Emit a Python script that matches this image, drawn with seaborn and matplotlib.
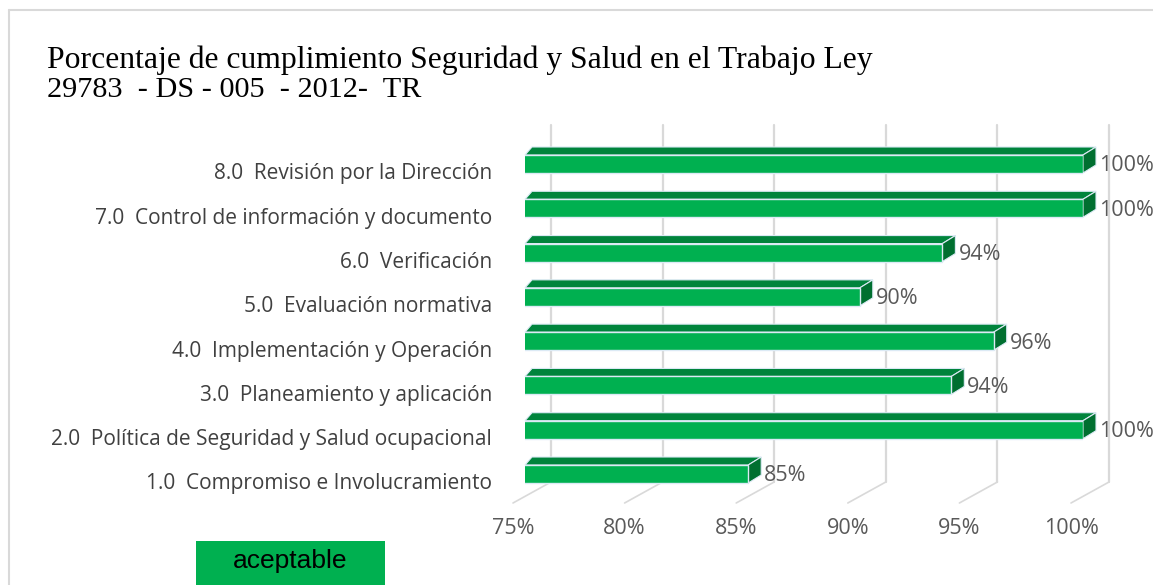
import matplotlib
matplotlib.use("Agg")
import matplotlib.pyplot as plt
import seaborn as sns
import pandas as pd
from matplotlib.patches import Polygon, Rectangle
from matplotlib.lines import Line2D

# ---- data -------------------------------------------------------------
categories = [
    "8.0  Revisión por la Dirección",
    "7.0  Control de información y documento",
    "6.0  Verificación",
    "5.0  Evaluación normativa",
    "4.0  Implementación y Operación",
    "3.0  Planeamiento y aplicación",
    "2.0  Política de Seguridad y Salud ocupacional",
    "1.0  Compromiso e Involucramiento",
]
values = [100, 100, 93.7, 90, 96, 94.1, 100, 85]
tick_values = [75, 80, 85, 90, 95, 100]
tick_labels = ["75%", "80%", "85%", "90%", "95%", "100%"]
title_lines = [
    "Porcentaje de cumplimiento Seguridad y Salud en el Trabajo Ley",
    "29783  - DS - 005  - 2012-  TR",
]
legend_label = "aceptable"

# ---- style ------------------------------------------------------------
FRONT = "#00B050"
TOP = "#00843C"
SIDE = "#006F30"
EDGE = "#DCEAF5"
GRID = "#D9D9D9"
TEXT = "#595959"
LABEL_FONT = "Open Sans"

W, H, DPI = 1153, 585, 100
sns.set_theme(style="white")
plt.rcParams["font.family"] = ["Open Sans", "DejaVu Sans"]

fig = plt.figure(figsize=(W / DPI, H / DPI), dpi=DPI)
fig.patch.set_facecolor("white")

# plot area in pixel terms (image coordinates, y downward)
AX_L, AX_R, AX_T, AX_B = 525, 1083, 120, 510
ax = fig.add_axes([AX_L / W, 1 - AX_B / H, (AX_R - AX_L) / W, (AX_B - AX_T) / H])

df = pd.DataFrame({"categoria": categories, "valor": values})
sns.barplot(data=df, x="valor", y="categoria", orient="h", color=FRONT,
            saturation=1, width=0.406, edgecolor=EDGE, linewidth=1.0, ax=ax,
            zorder=3)

x_min, x_max = 75, 100
ax.set_xlim(x_min, x_max)
ax.set_ylim(7.813, -0.993)
ax.axis("off")


def fx(xpx):
    return xpx / W


def fy(ypx):
    return 1 - ypx / H


def data_to_px(x, y):
    dx, dy = ax.transData.transform((x, y))
    return dx, H - dy


# data units per pixel
x_per_px = (x_max - x_min) / (AX_R - AX_L)
y_per_px = (7.813 + 0.993) / (AX_B - AX_T)

# ---- back wall & floor grid ----------------------------------------------
WALL_DX, FLOOR_DX = 26, -12
WALL_TOP, WALL_BOT, FLOOR_FRONT = 125, 482, 503
for v, lab in zip(tick_values, tick_labels):
    xp, _ = data_to_px(v, 0)
    fig.add_artist(Line2D([fx(xp + WALL_DX)] * 2, [fy(WALL_TOP), fy(WALL_BOT)],
                          color=GRID, lw=1.6, zorder=0))
    fig.add_artist(Line2D([fx(xp + WALL_DX), fx(xp + FLOOR_DX)],
                          [fy(WALL_BOT), fy(FLOOR_FRONT)],
                          color=GRID, lw=1.2, zorder=0))
    fig.text(fx(xp + FLOOR_DX), fy(529), lab, ha="center", va="center",
             color=TEXT, fontsize=15.5, family=LABEL_FONT)

# ---- 3-D faces of each bar ---------------------------------------------
DEPTH_Y = 8 * y_per_px
DX_LEFT = 7 * x_per_px
DX_RIGHT = 13 * x_per_px
for patch, v in zip(ax.patches, values):
    y0 = patch.get_y()
    y1 = y0 + patch.get_height()
    x1 = v
    top = Polygon([(x_min, y0), (x_min + DX_LEFT, y0 - DEPTH_Y),
                   (x1 + DX_RIGHT, y0 - DEPTH_Y), (x1, y0)],
                  closed=True, facecolor=TOP, edgecolor=EDGE, lw=0.8,
                  zorder=2, clip_on=False)
    side = Polygon([(x1, y0), (x1 + DX_RIGHT, y0 - DEPTH_Y),
                    (x1 + DX_RIGHT, y1 - DEPTH_Y), (x1, y1)],
                   closed=True, facecolor=SIDE, edgecolor=EDGE, lw=0.8,
                   zorder=2, clip_on=False)
    ax.add_patch(top)
    ax.add_patch(side)
    yc = y0 + patch.get_height() / 2
    ax.text(x1 + 16 * x_per_px, yc + 2 * y_per_px, f"{v:.0f}%",
            ha="left", va="center", color=TEXT, fontsize=15.5,
            family=LABEL_FONT, clip_on=False)

# ---- category labels -------------------------------------------------
for i, cat in enumerate(categories):
    ax.text(x_min - 33 * x_per_px, i + 10 * y_per_px, cat, ha="right",
            va="center", color="#404040", fontsize=15, family=LABEL_FONT,
            clip_on=False)

# ---- title ---------------------------------------------------------------
fig.text(fx(47), fy(68), title_lines[0], ha="left", va="baseline",
         fontsize=22.8, family="Liberation Serif", color="#000000")
fig.text(fx(47), fy(97), title_lines[1], ha="left", va="baseline",
         fontsize=21.8, family="Liberation Serif", color="#000000")

# ---- chart frame ---------------------------------------------------------
fig.add_artist(Line2D([fx(9), fx(W + 5)], [fy(10), fy(10)], color=GRID, lw=1.5))
fig.add_artist(Line2D([fx(9), fx(9)], [fy(10), fy(H + 5)], color=GRID, lw=1.5))

# ---- legend box ------------------------------------------------------------
fig.add_artist(Rectangle((fx(196), fy(590)), (385 - 196) / W, (590 - 541) / H,
                         facecolor=FRONT, edgecolor="none",
                         transform=fig.transFigure))
fig.text(fx(290), fy(561), legend_label, ha="center", va="center",
         fontsize=19, family="Liberation Sans", color="#000000")

fig.savefig("out.png", dpi=DPI)
